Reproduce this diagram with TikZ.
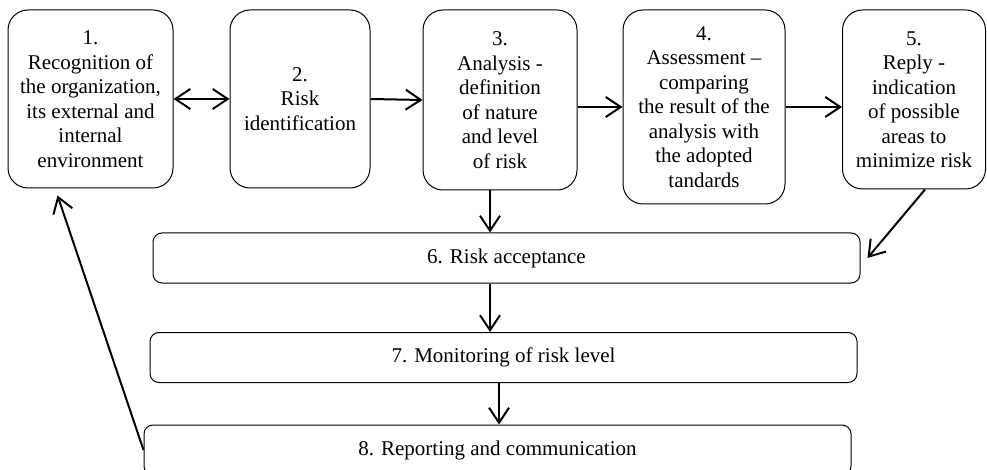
\documentclass[tikz,border=0pt]{standalone}
\usepackage{fontspec}
\setmainfont{Liberation Serif}
\usetikzlibrary{arrows.meta}
\tikzset{
  stage/.style={draw, line width=1pt, rounded corners=20pt, align=center,
    inner sep=0pt, font=\fontsize{21}{24.5}\selectfont},
  bar/.style={draw, line width=1pt, rounded corners=9pt, minimum width=707pt,
    minimum height=50pt, inner sep=0pt, font=\fontsize{21}{24.5}\selectfont},
  link/.style={line width=2pt, -{Straight Barb[length=15pt,width=20pt]}}
}
\begin{document}
\begin{tikzpicture}[x=1pt,y=-1pt]
			\clip (0,0) rectangle (987,470);
			\node[stage, minimum width=165pt, minimum height=178pt] (b1) at (90.5,99) {1.\\Recognition of\\the organization,\\its external and\\internal\\environment};
			\node[stage, minimum width=140pt, minimum height=178pt] (b2) at (300,99) {2.\\Risk\\identification};
			\node[stage, minimum width=154pt, minimum height=180pt] (b3) at (500,100) {3.\\Analysis -\\definition\\of nature\\and level\\of risk};
			\node[stage, minimum width=162pt, minimum height=194pt] (b4) at (704,107) {4.\\Assessment --\\comparing\\the result of the\\analysis with\\the adopted\\tandards};
			\node[stage, minimum width=143pt, minimum height=179pt] (b5) at (914,99.5) {5.\\Reply -\\indication\\of possible\\areas to\\minimize risk};
			\node[bar] (b6) at (506.5,258) {6. Risk acceptance};
			\node[bar] (b7) at (503.5,357.5) {7. Monitoring of risk level};
			\node[bar] (b8) at (497.5,450) {8. Reporting and communication};
			\draw[link, {Straight Barb[length=15pt,width=20pt]}-{Straight Barb[length=15pt,width=20pt]}] (b1.east) -- (b2.west);
			\draw[link] (b2.east) -- (b3.west);
			\draw[link] (b3.east |- b4.west) -- (b4.west);
			\draw[link] (b4.east) -- (b4.east -| b5.west);
			\draw[link] ([xshift=-10pt]b3.south) -- ([xshift=-10pt]b3.south |- b6.north);
			\draw[link] ([xshift=11pt]b5.south) -- ([xshift=7pt]b6.east);
			\draw[link] ([xshift=-10pt]b3.south |- b6.south) -- ([xshift=-10pt]b3.south |- b7.north);
			\draw[link] ([xshift=-1pt]b3.south |- b7.south) -- ([xshift=-1pt]b3.south |- b8.north);
			\draw[link] (b8.west) -- ([xshift=-33pt,yshift=-7pt]b1.south);
\end{tikzpicture}
\end{document}
